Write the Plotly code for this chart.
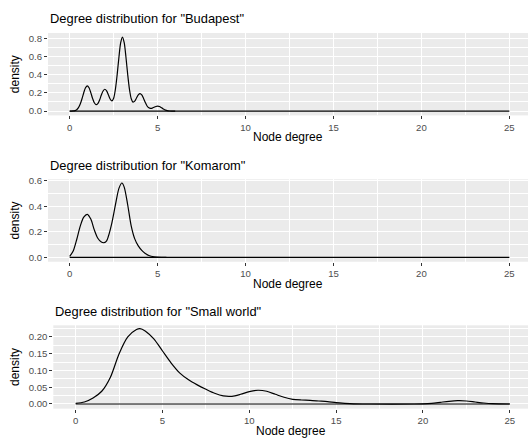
import plotly.graph_objects as go

# ---------------- data ----------------
x_limits = [0, 25]

bud_x = [0.0, 0.1, 0.2, 0.3, 0.4, 0.5, 0.6, 0.7, 0.8, 0.9,
         1.0, 1.1, 1.2, 1.3, 1.4, 1.5, 1.6, 1.7, 1.8, 1.9,
         2.0, 2.1, 2.2, 2.3, 2.4, 2.5, 2.6, 2.7, 2.8, 2.9,
         3.0, 3.1, 3.2, 3.3, 3.4, 3.5, 3.6, 3.7, 3.8, 3.9,
         4.0, 4.1, 4.2, 4.3, 4.4, 4.5, 4.6, 4.7, 4.8, 4.9,
         5.0, 5.1, 5.2, 5.3, 5.4, 5.5, 5.6, 5.7, 5.8, 5.9, 6.0]
bud_y = [0.0001, 0.0004, 0.0017, 0.0055, 0.0156, 0.0375, 0.0772, 0.135, 0.202, 0.256,
         0.278, 0.257, 0.203, 0.140, 0.091, 0.070, 0.082, 0.122, 0.176, 0.221,
         0.240, 0.222, 0.179, 0.133, 0.112, 0.142, 0.240, 0.401, 0.592, 0.752,
         0.814, 0.752, 0.592, 0.400, 0.237, 0.136, 0.099, 0.109, 0.144, 0.178,
         0.192, 0.177, 0.139, 0.094, 0.056, 0.036, 0.030, 0.033, 0.042, 0.050,
         0.054, 0.050, 0.039, 0.026, 0.015, 0.0073, 0.003, 0.0011, 0.0003, 0.0001, 0.0]

kom_x = [0.0, 0.2, 0.4, 0.6, 0.8, 1.0, 1.2, 1.4, 1.6, 1.8, 1.95, 2.1, 2.2, 2.4,
         2.6, 2.8, 2.97, 3.1, 3.3, 3.5, 3.7, 3.9, 4.1, 4.3, 4.5, 4.8, 5.2, 5.5]
kom_y = [0.008, 0.05, 0.14, 0.245, 0.315, 0.337, 0.30, 0.215, 0.15, 0.12, 0.115, 0.13, 0.165, 0.27,
         0.41, 0.54, 0.582, 0.55, 0.41, 0.245, 0.145, 0.09, 0.055, 0.03, 0.015, 0.005, 0.001, 0.0]

sw_x = [0.0, 0.5, 1.0, 1.5, 2.0, 2.5, 3.0, 3.5, 3.7, 4.0, 4.5, 5.0, 5.5, 6.0, 6.5, 7.0,
        7.5, 8.0, 8.5, 9.0, 9.5, 10.0, 10.5, 11.0, 11.5, 12.0, 12.5, 13.0, 13.5, 14.0,
        14.5, 15.0, 15.5, 16.0, 17.0, 19.5, 20.0, 20.5, 21.0, 21.5, 22.0, 22.5, 23.0,
        23.5, 24.0, 25.0]
sw_y = [0.002, 0.006, 0.018, 0.038, 0.08, 0.15, 0.2, 0.222, 0.2248, 0.218, 0.194, 0.158,
        0.122, 0.092, 0.072, 0.057, 0.044, 0.032, 0.024, 0.023, 0.029, 0.037, 0.041,
        0.038, 0.029, 0.02, 0.014, 0.012, 0.011, 0.009, 0.007, 0.004, 0.002, 0.0005,
        0.0, 0.0, 0.0005, 0.002, 0.005, 0.008, 0.0098, 0.009, 0.006, 0.003, 0.001, 0.0]

x_ticks = [0, 5, 10, 15, 20, 25]
x_minor = [2.5, 7.5, 12.5, 17.5, 22.5]
y1_ticks = [0.0, 0.2, 0.4, 0.6, 0.8]
y1_minor = [0.1, 0.3, 0.5, 0.7]
y2_ticks = [0.0, 0.2, 0.4, 0.6]
y2_minor = [0.1, 0.3, 0.5]
y3_ticks = [0.0, 0.05, 0.10, 0.15, 0.20]
y3_minor = [0.025, 0.075, 0.125, 0.175, 0.225]

titles = ['Degree distribution for "Budapest"',
          'Degree distribution for "Komarom"',
          'Degree distribution for "Small world"']

# ---------------- figure ----------------
W, H = 528, 441
FONT = "Liberation Sans, Arial, Helvetica, sans-serif"
BG = "#EBEBEB"

fig = go.Figure()

panels = [
    dict(cx=bud_x, cy=bud_y, xa="x", ya="y"),
    dict(cx=kom_x, cy=kom_y, xa="x2", ya="y2"),
    dict(cx=sw_x, cy=sw_y, xa="x3", ya="y3"),
]
for p in panels:
    fig.add_trace(go.Scatter(x=x_limits, y=[0, 0], mode="lines",
                             line=dict(color="black", width=1.2),
                             xaxis=p["xa"], yaxis=p["ya"], hoverinfo="skip",
                             showlegend=False))
    fig.add_trace(go.Scatter(x=p["cx"], y=p["cy"], mode="lines",
                             line=dict(color="black", width=1.2, shape="spline", smoothing=0.8),
                             xaxis=p["xa"], yaxis=p["ya"], showlegend=False))


def px_dom_x(l, r):
    return [l / W, r / W]


def px_dom_y(top, bot):
    return [1 - bot / H, 1 - top / H]


tickfont = dict(family=FONT, size=9.6, color="#4D4D4D")


def xaxis(dom, rng):
    return dict(domain=dom, range=rng, tickvals=x_ticks, ticktext=[str(v) for v in x_ticks],
                ticks="outside", ticklen=3, tickwidth=1, tickcolor="#333333",
                showgrid=True, gridcolor="white", gridwidth=1.1, zeroline=False,
                showline=False, tickfont=tickfont,
                minor=dict(tickvals=x_minor, showgrid=True, gridcolor="white",
                           gridwidth=0.55, ticks=""))


def yaxis(dom, rng, ticks, minor, fmt, anchor):
    return dict(domain=dom, range=rng, tickvals=ticks,
                ticktext=[format(v, fmt) for v in ticks],
                ticks="outside", ticklen=3, tickwidth=1, tickcolor="#333333",
                showgrid=True, gridcolor="white", gridwidth=1.1, zeroline=False,
                showline=False, tickfont=tickfont, anchor=anchor,
                minor=dict(tickvals=minor, showgrid=True, gridcolor="white",
                           gridwidth=0.55, ticks=""))


# panel pixel geometry
p1 = dict(l=48, r=528, t=29.3, b=112.7)
p2 = dict(l=48, r=528, t=177.3, b=260.7)
p3 = dict(l=53.3, r=528, t=325, b=409.3)

fig.update_layout(
    width=W, height=H, margin=dict(l=0, r=0, t=0, b=0),
    paper_bgcolor="white", plot_bgcolor=BG,
    font=dict(family=FONT, color="black"),
    xaxis=xaxis(px_dom_x(p1["l"], p1["r"]), [-1.233, 26.06]) | dict(anchor="y"),
    xaxis2=xaxis(px_dom_x(p2["l"], p2["r"]), [-1.233, 26.06]) | dict(anchor="y2"),
    xaxis3=xaxis(px_dom_x(p3["l"], p3["r"]), [-1.29, 26.05]) | dict(anchor="y3"),
    yaxis=yaxis(px_dom_y(p1["t"], p1["b"]), [-0.0478, 0.8587], y1_ticks, y1_minor, ".1f", "x"),
    yaxis2=yaxis(px_dom_y(p2["t"], p2["b"]), [-0.034, 0.611], y2_ticks, y2_minor, ".1f", "x2"),
    yaxis3=yaxis(px_dom_y(p3["t"], p3["b"]), [-0.0139, 0.2346], y3_ticks, y3_minor, ".2f", "x3"),
    showlegend=False,
)

# titles and axis labels as annotations (pixel-placed)
ann = []
title_pos = [(48, 15), (48, 163.5), (53.3, 311.5)]
for t, (xx, yy) in zip(titles, title_pos):
    ann.append(dict(text=t, x=xx / W, y=1 - yy / H, xref="paper", yref="paper",
                    xanchor="left", yanchor="middle", showarrow=False,
                    font=dict(family=FONT, size=12.9, color="black")))
for p, yy in [(p1, 134.5), (p2, 283), (p3, 432)]:
    ann.append(dict(text="Node degree", x=((p["l"] + p["r"]) / 2) / W, y=1 - yy / H,
                    xref="paper", yref="paper", xanchor="center", yanchor="middle",
                    showarrow=False, font=dict(family=FONT, size=12, color="black")))
    ann.append(dict(text="density", x=15 / W, y=1 - ((p["t"] + p["b"]) / 2) / H,
                    xref="paper", yref="paper", xanchor="center", yanchor="middle",
                    textangle=-90, showarrow=False,
                    font=dict(family=FONT, size=12, color="black")))
fig.update_layout(annotations=ann)

fig.write_html("out.html")
